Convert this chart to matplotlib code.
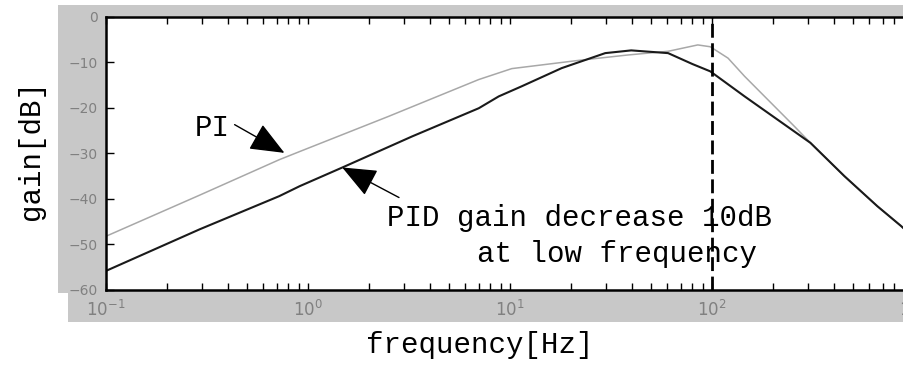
import numpy as np
import matplotlib
matplotlib.use('Agg')
import matplotlib.pyplot as plt
from matplotlib.patches import Rectangle

# gain curves
freq_pi = [0.1, 0.29, 0.72, 0.91, 2.5, 7.0, 10.2, 21.8, 38.5, 60.6, 85, 98,
           120, 145, 182, 256, 307, 452, 658, 865, 1000]
gain_pi = [-48.2, -39.2, -31.4, -29.6, -21.9, -13.8, -11.4, -9.6, -8.4, -7.6, -6.2, -6.6,
           -9.1, -13.1, -17.5, -24.1, -27.7, -35.0, -41.6, -46.0, -48.6]

freq_pid = [0.1, 0.29, 0.72, 0.91, 1.48, 3.27, 7.0, 8.79, 11.4, 18.0, 29.6, 39.8,
            60.6, 80, 98, 145, 211, 307, 452, 658, 865, 1000]
gain_pid = [-55.8, -46.7, -39.4, -37.2, -33.1, -26.3, -20.1, -17.5, -15.3, -11.3, -8.0, -7.4,
            -8.0, -10.4, -12.0, -17.5, -22.6, -27.7, -35.0, -41.6, -46.0, -48.6]

f_mark = 100
y_ticks = [0, -10, -20, -30, -40, -50, -60]
mono = 'Liberation Mono'

fig = plt.figure(figsize=(9.04, 3.65), dpi=100)

# gray frame behind the plot
fig.patches.append(Rectangle((0.0642, 0.197), 1.0, 0.789, transform=fig.transFigure,
                             facecolor='#c8c8c8', edgecolor='none', zorder=-5))
fig.patches.append(Rectangle((0.0752, 0.118), 1.0, 0.080, transform=fig.transFigure,
                             facecolor='#c8c8c8', edgecolor='none', zorder=-5))

ax = fig.add_axes([0.1173, 0.2055, 0.8938, 0.7488], zorder=2)
ax.set_facecolor('white')
ax.set_xscale('log')
ax.set_xlim(0.1, 1000)
ax.set_ylim(-60, 0)

ax.plot(freq_pi, gain_pi, color='#a8a8a8', lw=1.1)
ax.plot(freq_pid, gain_pid, color='#1a1a1a', lw=1.5)
ax.axvline(f_mark, color='black', lw=2, dashes=(5, 2))

ax.set_yticks(y_ticks)
ax.tick_params(axis='both', which='both', direction='in', colors='black',
               labelcolor='#808080', labelsize=10)
ax.tick_params(axis='x', which='both', top=True, length=5, width=1, pad=7, labelsize=12)
ax.tick_params(axis='y', length=6, width=1, pad=6)
for s in ['top', 'bottom', 'left']:
    ax.spines[s].set_linewidth(1.8)
ax.spines['right'].set_visible(False)

ann = dict(arrowstyle='-|>,head_length=1.2,head_width=0.5', color='black', lw=1.0,
           shrinkA=0, shrinkB=0, mutation_scale=18)
ax.annotate('', xy=(0.764, -29.9), xytext=(0.433, -23.7), arrowprops=ann)
ax.annotate('', xy=(1.476, -33.1), xytext=(2.82, -39.7), arrowprops=ann)

ax.text(0.275, -24.4, 'PI', family=mono, fontsize=21, ha='left', va='center')
ax.text(2.46, -44.1, 'PID gain decrease 10dB', family=mono, fontsize=21,
        ha='left', va='center')
ax.text(6.84, -52.2, 'at low frequency', family=mono, fontsize=21,
        ha='left', va='center')

fig.text(0.531, 0.055, 'frequency[Hz]', family=mono, fontsize=21, ha='center', va='center')
fig.text(0.034, 0.59, 'gain[dB]', family=mono, fontsize=21, ha='center', va='center',
         rotation=90)

fig.savefig('out.png', dpi=100)
